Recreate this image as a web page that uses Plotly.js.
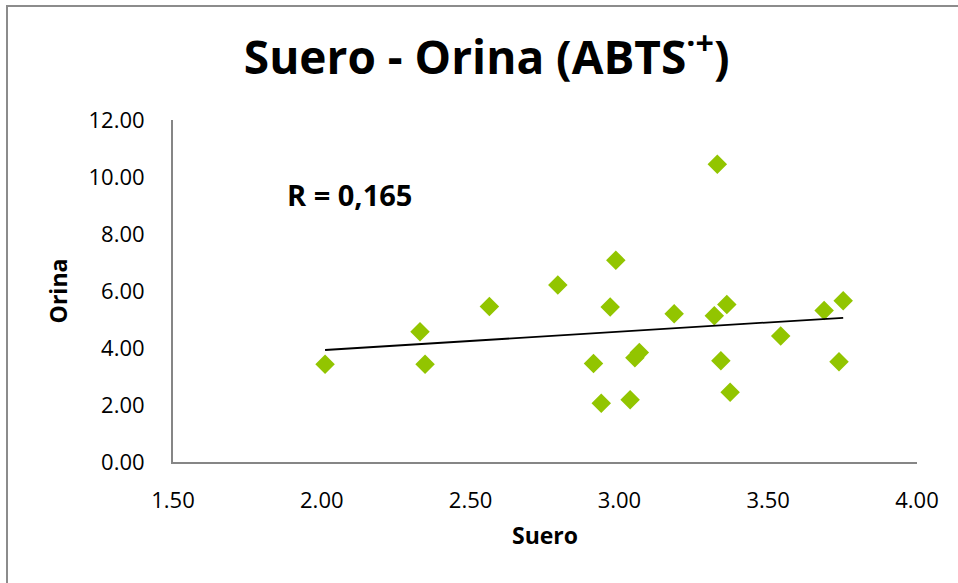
<!DOCTYPE html>
<html>
<head>
<meta charset="utf-8">
<script src="https://cdn.plot.ly/plotly-3.0.1.min.js"></script>
<style>
  html, body { margin: 0; padding: 0; background: #fff; }
  #wrap { position: relative; width: 958px; height: 583px; overflow: hidden; }
  #chart { position: absolute; left: 0; top: 0; width: 958px; height: 583px; }
  #frame { position: absolute; left: 6px; top: 5px; width: 970px; height: 600px;
           border-left: 2px solid #8c8c8c; border-top: 2px solid #8c8c8c; pointer-events: none; }
</style>
</head>
<body>
<div id="wrap">
  <div id="chart"></div>
  <div id="frame"></div>
</div>
<script>
// Data
const suero = [2.011, 2.330, 2.347, 2.563, 2.793, 2.913, 2.939, 2.969, 2.988, 3.036, 3.052,
               3.067, 3.184, 3.319, 3.329, 3.341, 3.361, 3.372, 3.542, 3.688, 3.738, 3.752];
const orina = [3.43, 4.57, 3.43, 5.46, 6.21, 3.46, 2.06, 5.44, 7.08, 2.18, 3.66,
               3.84, 5.20, 5.13, 10.45, 3.55, 5.53, 2.45, 4.42, 5.32, 3.52, 5.66];
// Linear trendline endpoints (as drawn in the reference)
const trendX = [2.011, 3.752];
const trendY = [3.93, 5.06];

const xTicks = [1.5, 2.0, 2.5, 3.0, 3.5, 4.0];
const yTicks = [0, 2, 4, 6, 8, 10, 12];
const xTickText = ["1.50", "2.00", "2.50", "3.00", "3.50", "4.00"];
const yTickText = ["0.00", "2.00", "4.00", "6.00", "8.00", "10.00", "12.00"];

const titleText = "<b>Suero - Orina (ABTS<sup>·+</sup>)</b>";
const rText = "<b>R = 0,165</b>";

const FONT = "'Open Sans', 'DejaVu Sans', sans-serif";

const traces = [
  {
    x: suero, y: orina, type: "scatter", mode: "markers",
    marker: { symbol: "diamond", size: 15, color: "#92c500", line: { width: 0 } },
    hoverinfo: "x+y", showlegend: false
  },
  {
    x: trendX, y: trendY, type: "scatter", mode: "lines",
    line: { color: "#000000", width: 1.8 }, hoverinfo: "skip", showlegend: false
  }
];

const layout = {
  width: 958, height: 583,
  margin: { l: 173, r: 41, t: 120, b: 121, pad: 0 },
  paper_bgcolor: "#ffffff", plot_bgcolor: "#ffffff",
  font: { family: FONT, color: "#000000" },
  title: {
    text: titleText,
    font: { family: FONT, size: 46, color: "#000000" },
    xref: "container", yref: "container",
    x: 0.508, xanchor: "center",
    y: 0.9, yanchor: "middle"
  },
  xaxis: {
    range: [1.5, 4.0], tickvals: xTicks, ticktext: xTickText,
    showgrid: false, zeroline: false, showline: true, linecolor: "#868686", linewidth: 2,
    ticks: "", ticklabelstandoff: 18,
    tickfont: { family: FONT, size: 22, color: "#000000" },
    title: { text: "<b>Suero</b>", font: { family: FONT, size: 23, color: "#000000" }, standoff: 14 }
  },
  yaxis: {
    range: [0, 12], tickvals: yTicks, ticktext: yTickText,
    showgrid: false, zeroline: false, showline: true, linecolor: "#868686", linewidth: 2,
    ticks: "", ticklabelstandoff: 22,
    tickfont: { family: FONT, size: 22, color: "#000000" },
    title: { text: "<b>Orina</b>", font: { family: FONT, size: 23, color: "#000000" }, standoff: 14 }
  },
  annotations: [
    {
      text: rText, x: 1.877, y: 9.4, xref: "x", yref: "y",
      xanchor: "left", yanchor: "middle", showarrow: false,
      font: { family: FONT, size: 29, color: "#000000" }
    }
  ]
};

Plotly.newPlot("chart", traces, layout, { displayModeBar: false, staticPlot: true });
</script>
</body>
</html>
